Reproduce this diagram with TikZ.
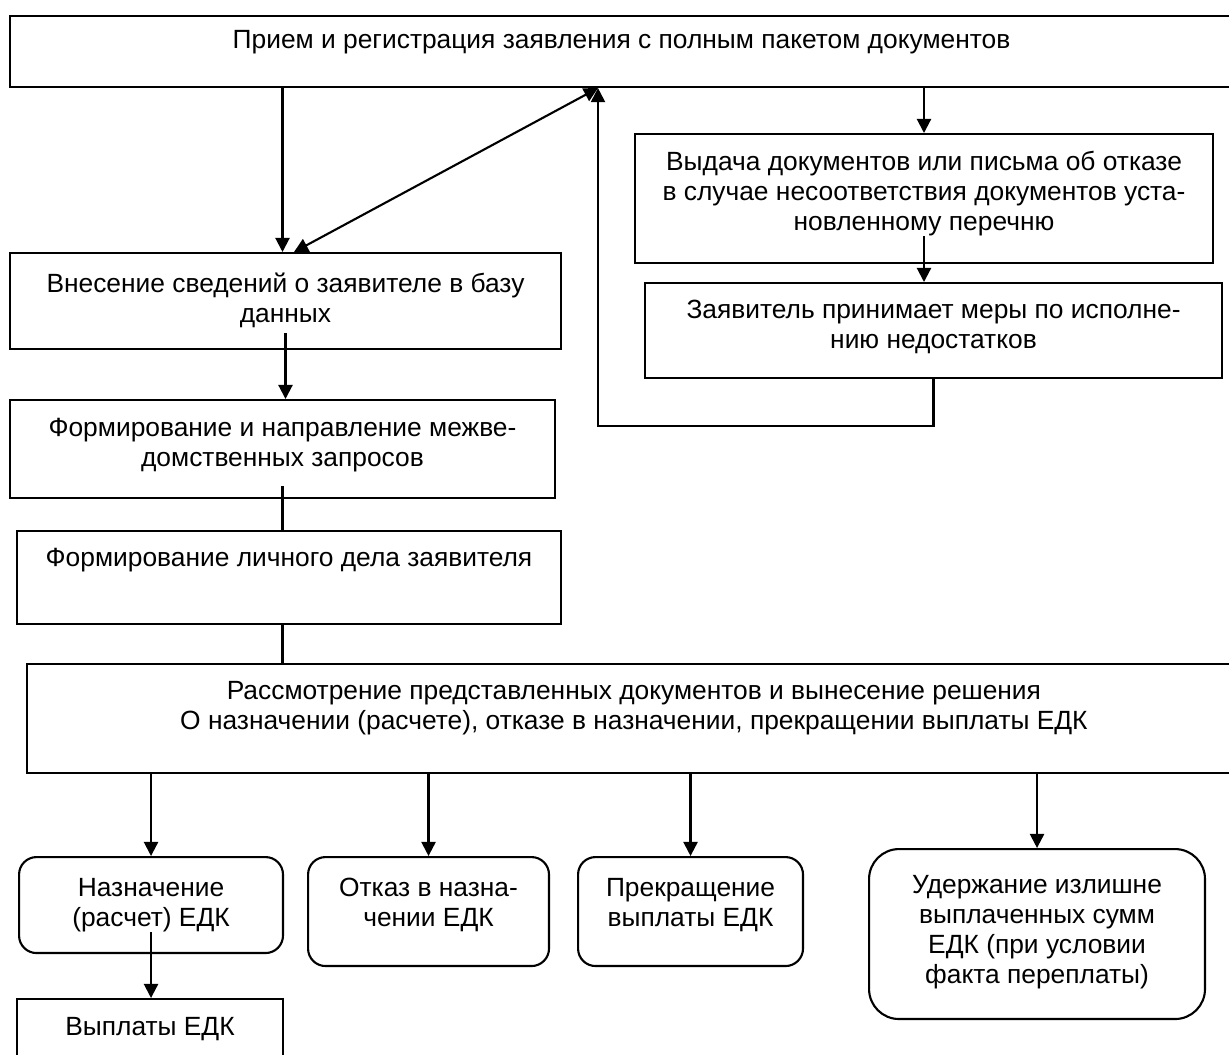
\documentclass[tikz,border=0pt]{standalone}
\usepackage{fontspec}
\setmainfont{Liberation Sans}
\usetikzlibrary{arrows.meta}

\begin{document}
\begin{tikzpicture}[x=0.02cm, y=-0.02cm,
        box/.style={rectangle, draw=black, line width=1.2pt, fill=white, anchor=north west, inner sep=0pt},
        rbox/.style={box, rounded corners=0.35cm},
        txt/.style={align=center, anchor=north, inner sep=0pt, font=\fontsize{15pt}{17pt}\selectfont},
        arr/.style={line width=1.2pt, -{Triangle[length=8pt, width=8pt]}},
        dblarr/.style={line width=1.2pt, {Triangle[length=8pt, width=8pt]}-{Triangle[length=8pt, width=8pt]}},
        link/.style={line width=1.2pt}
    ]
        \useasboundingbox (0,0) rectangle (1229,1054);
        \clip (0,0) rectangle (1229,1054);
        % upper part
        \node[box, minimum width=24.46cm, minimum height=1.42cm] (priem) at (9,15) {};
        \node[txt] (priemT) at ([yshift=-0.3cm]priem.north) {Прием и регистрация заявления с полным пакетом документов};
        \node[box, minimum width=11.02cm, minimum height=1.92cm] (vnes) at (9,252) {};
        \node[txt] (vnesT) at ([yshift=-0.42cm]vnes.north) {Внесение сведений о заявителе в базу\\данных};
        \node[box, minimum width=10.9cm, minimum height=1.96cm] (form1) at (9,399) {};
        \node[txt] (form1T) at ([yshift=-0.38cm]form1.north) {Формирование и направление межве-\\домственных запросов};
        \node[box, minimum width=10.88cm, minimum height=1.86cm] (form2) at (16,530) {};
        \node[txt] (form2T) at ([yshift=-0.36cm]form2.north) {Формирование личного дела заявителя};
        \node[box, minimum width=11.56cm, minimum height=2.58cm] (vyd) at (634,133) {};
        \node[txt] (vydT) at ([yshift=-0.36cm]vyd.north) {Выдача документов или письма об отказе\\в случае несоответствия документов уста-\\новленному перечню};
        \node[box, minimum width=11.54cm, minimum height=1.9cm] (zay) at (644,282) {};
        \node[txt] (zayT) at ([yshift=-0.36cm]zay.north) {Заявитель принимает меры по исполне-\\нию недостатков};
        \node[box, minimum width=24.28cm, minimum height=2.18cm] (rassm) at (26,663) {};
        \node[txt] (rassmT) at ([yshift=-0.36cm]rassm.north) {Рассмотрение представленных документов и вынесение решения\\О назначении (расчете), отказе в назначении, прекращении выплаты ЕДК};
        % decisions
        \node[rbox, minimum width=5.28cm, minimum height=1.92cm] (nazn) at (18,856) {};
        \node[txt] (naznT) at ([yshift=-0.44cm]nazn.north) {Назначение\\(расчет) ЕДК};
        \node[rbox, minimum width=4.82cm, minimum height=2.18cm] (otk) at (307,856) {};
        \node[txt] (otkT) at ([yshift=-0.44cm]otk.north) {Отказ в назна-\\чении ЕДК};
        \node[rbox, minimum width=4.5cm, minimum height=2.18cm] (prek) at (577,856) {};
        \node[txt] (prekT) at ([yshift=-0.44cm]prek.north) {Прекращение\\выплаты ЕДК};
        \node[rbox, rounded corners=0.6cm, minimum width=6.72cm, minimum height=3.4cm] (uder) at (868,848) {};
        \node[txt] (uderT) at ([yshift=-0.54cm]uder.north) {Удержание излишне\\выплаченных сумм\\ЕДК (при условии\\факта переплаты)};
        \node[box, minimum width=5.32cm, minimum height=1.6cm] (vypl) at (16,998) {};
        \node[txt] (vyplT) at ([yshift=-0.38cm]vypl.north) {Выплаты ЕДК};
        % connectors
        \coordinate (back) at (598,426);
        \draw[arr] (priem.south -| form1.north) -- (form1.north |- vnes.north);
        \draw[dblarr] (back |- priem.south) -- ([xshift=0.17cm]vnes.north);
        \draw[arr] (zay.south) |- (back) -- (back |- priem.south);
        \draw[arr] (priem.south -| vyd.north) -- (vyd.north);
        \draw[arr] (vydT.south) -- (vydT.south |- zay.north);
        \draw[arr] ([yshift=-0.1cm]vnesT.south) -- (vnesT.south |- form1.north);
        \draw[link] ([yshift=-0.28cm]form1T.south) -- (form1T.south |- form2.north);
        \draw[link] (form1T.south |- form2.south) -- (form1T.south |- rassm.north);
        \foreach \n in {nazn, otk, prek, uder}
            \draw[arr] (rassm.south -| \n.north) -- (\n.north);
        \draw[arr] (naznT.south) -- (naznT.south |- vypl.north);
\end{tikzpicture}
\end{document}
